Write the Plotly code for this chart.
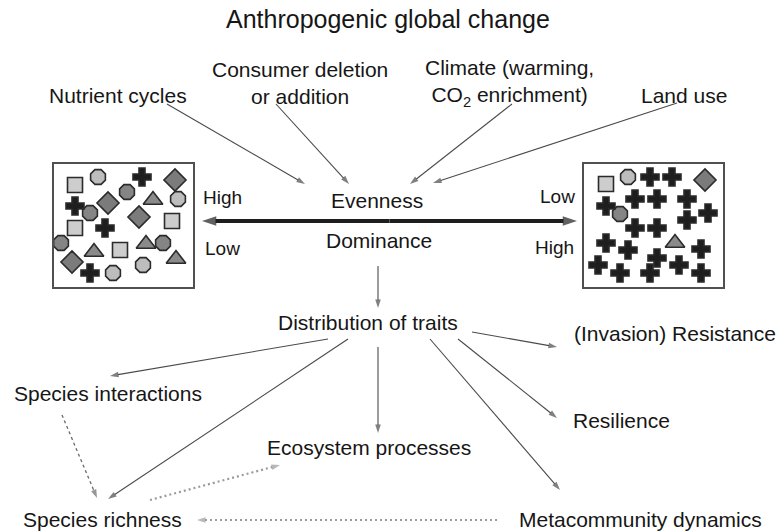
import plotly.graph_objects as go

W, H = 779, 532
FONT = "Liberation Sans, Arial, Helvetica, sans-serif"
TXT = "#161616"

# ---------------- text nodes ----------------
title_text = "Anthropogenic global change"
title_pos = (388, 19)

driver_labels = ["Nutrient cycles", "Consumer deletion<br>or addition",
                 "Climate (warming,<br>CO<sub>2</sub> enrichment)", "Land use"]
driver_x = [118, 300, 509, 684]
driver_y = [95, 83, 83, 95]

center_labels = ["Evenness", "Dominance", "Distribution of traits",
                 "Ecosystem processes"]
center_x = [377, 379, 368, 369]
center_y = [200, 240, 322, 447]

side_labels = ["High", "Low", "Low", "High"]
side_x = [222, 222, 557, 554]
side_y = [197, 248, 196, 247]

outcome_labels = ["Species interactions", "(Invasion) Resistance", "Resilience",
                  "Species richness", "Metacommunity dynamics"]
outcome_x = [108, 675, 621, 102, 640]
outcome_y = [393, 333, 420, 519, 519]

# ---------------- arrows (from -> to) ----------------
driver_arrow_from = [(167, 104), (276, 104), (512, 104), (677, 103)]
driver_arrow_to = [(305, 184), (349, 184), (410, 184), (433, 183)]

gradient_axis = (202, 577, 221)          # x_left, x_right, y
dom_arrow = [(378, 266), (378, 308)]

solid_from = [(328, 339), (348, 339), (378, 347), (472, 332), (458, 339), (430, 339)]
solid_to = [(110, 376), (108, 499), (378, 433), (557, 347), (557, 418), (560, 490)]

dashed_from = [(62, 415)]
dashed_to = [(97, 498)]

dotted_from = [(150, 500), (497, 520)]
dotted_to = [(280, 465), (197, 520)]

# ---------------- community boxes ----------------
box_left = (53, 163, 194, 288)
box_right = (583, 163, 724, 288)

species = ["square", "octagon light", "octagon dark", "cross", "diamond", "triangle"]
left_xy = {
    "square": [(75, 185), (172, 221), (75, 228), (120, 250)],
    "octagon light": [(98, 177), (178, 199), (113, 273), (143, 265)],
    "octagon dark": [(127, 192), (90, 213), (61, 243), (163, 243)],
    "cross": [(142, 177), (75, 206), (105, 228), (90, 273)],
    "diamond": [(175, 180), (108, 203), (139, 217), (72, 262)],
    "triangle": [(153, 200), (94, 252), (146, 244), (176, 259)],
}
right_xy = {
    "square": [(606, 184)],
    "octagon light": [(628, 177)],
    "octagon dark": [(620, 214)],
    "cross": [(650, 177), (672, 177), (606, 206), (635, 199), (657, 199), (687, 199),
              (708, 213), (635, 228), (657, 228), (687, 220), (606, 243), (628, 250),
              (701, 249), (657, 258), (598, 265), (620, 273), (650, 273), (679, 265),
              (701, 273)],
    "diamond": [(705, 180)],
    "triangle": [(675, 243)],
}

sp_style = {
    "square": dict(symbol="square", size=15, color="#cdcdcd"),
    "octagon light": dict(symbol="octagon", size=16, color="#bdbdbd"),
    "octagon dark": dict(symbol="octagon", size=16, color="#858585"),
    "cross": dict(symbol="cross", size=15, color="#1e1e1e"),
    "diamond": dict(symbol="diamond", size=17, color="#7b7b7b"),
    "triangle": dict(symbol="triangle-up", size=17, color="#8a8a8a"),
}

fig = go.Figure()


def arrow(p0, p1, color="#4a4a4a", width=1.1, dash="solid", head=9):
    fig.add_trace(go.Scatter(
        x=[p0[0], p1[0]], y=[p0[1], p1[1]], mode="lines+markers",
        line=dict(color=color, width=width, dash=dash),
        marker=dict(symbol="arrow", angleref="previous", size=[0, head],
                    color=color, line=dict(width=0)),
        hoverinfo="skip", showlegend=False))


for a, b in zip(driver_arrow_from, driver_arrow_to):
    arrow(a, b)

xl, xr, ya = gradient_axis
xm = (xl + xr) / 2
arrow((xm, ya), (xl, ya), color="#1e1e1e", width=4, head=15)
arrow((xm, ya), (xr, ya), color="#1e1e1e", width=4, head=15)

arrow(dom_arrow[0], dom_arrow[1])
for a, b in zip(solid_from, solid_to):
    arrow(a, b)
for a, b in zip(dashed_from, dashed_to):
    arrow(a, b, color="#6a6a6a", width=1.3, dash="3px,3px")
for a, b in zip(dotted_from, dotted_to):
    arrow(a, b, color="#9a9a9a", width=2.2, dash="2px,3px", head=9)

# community markers
for comm in (left_xy, right_xy):
    for sp in species:
        pts = comm[sp]
        st = sp_style[sp]
        fig.add_trace(go.Scatter(
            x=[p[0] for p in pts], y=[p[1] for p in pts], mode="markers",
            marker=dict(symbol=st["symbol"], size=st["size"], color=st["color"],
                        line=dict(color="#2b2b2b", width=1.6)),
            hoverinfo="skip", showlegend=False))

for bx in (box_left, box_right):
    fig.add_shape(type="rect", xref="x", yref="y", x0=bx[0], y0=bx[1], x1=bx[2], y1=bx[3],
                  line=dict(color="#505050", width=2), fillcolor="rgba(0,0,0,0)")


def label(text, x, y, size):
    fig.add_annotation(x=x, y=y, xref="x", yref="y", text=text, showarrow=False,
                       font=dict(family=FONT, size=size, color=TXT),
                       xanchor="center", yanchor="middle", align="center")


label(title_text, *title_pos, 25)
for t, x, y in zip(driver_labels, driver_x, driver_y):
    label(t, x, y, 21)
for t, x, y in zip(center_labels, center_x, center_y):
    label(t, x, y, 21)
for t, x, y in zip(side_labels, side_x, side_y):
    label(t, x, y, 19)
for t, x, y in zip(outcome_labels, outcome_x, outcome_y):
    label(t, x, y, 21)

fig.update_layout(
    width=W, height=H, autosize=False,
    margin=dict(l=0, r=0, t=0, b=0),
    paper_bgcolor="white", plot_bgcolor="white",
    xaxis=dict(range=[0, W], visible=False, fixedrange=True),
    yaxis=dict(range=[H, 0], visible=False, fixedrange=True),
    showlegend=False,
)

fig.write_html("out.html", config={"displayModeBar": False},
               post_script="document.body.style.margin='0';document.body.style.overflow='hidden';")
